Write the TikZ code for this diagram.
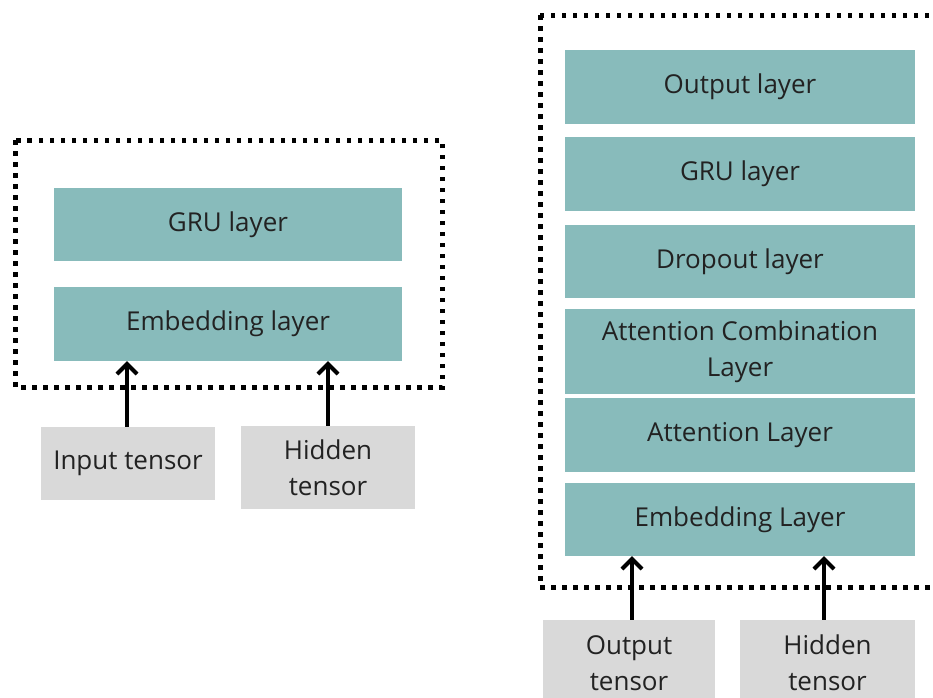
\documentclass[tikz,border=0pt]{standalone}
\usepackage{fontspec}
\setmainfont{Open Sans}
\usetikzlibrary{arrows.meta}
\definecolor{layerteal}{HTML}{88BBBB}
\definecolor{tensorgrey}{HTML}{D9D9D9}
\definecolor{labelink}{HTML}{222222}
\tikzset{
  boxtext/.style={align=center, text=labelink, font=\fontsize{26}{36}\selectfont},
  layerbox/.style={boxtext, fill=layerteal, draw=none, inner sep=0pt},
  tensorbox/.style={boxtext, fill=tensorgrey, draw=none, inner sep=0pt},
  dotframe/.style={draw=black, line width=5pt, dash pattern=on 4.5pt off 6.5pt},
  feed/.style={draw=black, line width=4.5pt,
    -{Straight Barb[length=10pt, width=20pt, line width=4pt]}}
}
\begin{document}
\begin{tikzpicture}[x=1pt, y=-1pt]
  \useasboundingbox (0,0) rectangle (933,697);
  \clip (0,0) rectangle (933,697);

  % ---------- encoder ----------
  \draw[dotframe] (15,140) rectangle (442,387);
  \node[layerbox, minimum width=348pt, minimum height=73pt] (egru) at (228,224.5) {GRU layer};
  \node[layerbox, minimum width=348pt, minimum height=74pt] (eemb) at (228,324) {Embedding layer};
  \node[tensorbox, minimum width=174pt, minimum height=73pt] (ein) at (128,463.5) {Input tensor};
  \node[tensorbox, minimum width=174pt, minimum height=83pt] (ehid) at (328,467.5) {Hidden\\tensor};
  \draw[feed] (ein.north -| 127,0) -- (eemb.south -| 127,0);
  \draw[feed] (ehid.north -| 328,0) -- (eemb.south -| 328,0);

  % ---------- decoder ----------
  \draw[dotframe] (540,15) rectangle (960,587);
  \node[layerbox, minimum width=350pt, minimum height=74pt] (dout) at (740,87) {Output layer};
  \node[layerbox, minimum width=350pt, minimum height=74pt] (dgru) at (740,174) {GRU layer};
  \node[layerbox, minimum width=350pt, minimum height=73pt] (ddrop) at (740,261.5) {Dropout layer};
  \node[layerbox, minimum width=350pt, minimum height=85pt] (dcomb) at (740,351.5) {Attention Combination\\Layer};
  \node[layerbox, minimum width=350pt, minimum height=74pt] (datt) at (740,435) {Attention Layer};
  \node[layerbox, minimum width=350pt, minimum height=73pt] (demb) at (740,519.5) {Embedding Layer};
  % the input boxes run off the lower edge; their labels sit in the visible part
  \node[tensorbox, minimum width=172pt, minimum height=96pt] (douttensor) at (629,668) {};
  \node[boxtext] (douttext) at (629,663) {Output\\tensor};
  \node[tensorbox, minimum width=175pt, minimum height=96pt] (dhid) at (827.5,668) {};
  \node[boxtext] (dhidtext) at (827.5,663) {Hidden\\tensor};
  \draw[feed] (douttensor.north -| 632,0) -- (demb.south -| 632,0);
  \draw[feed] (dhid.north -| 824,0) -- (demb.south -| 824,0);
\end{tikzpicture}
\end{document}
